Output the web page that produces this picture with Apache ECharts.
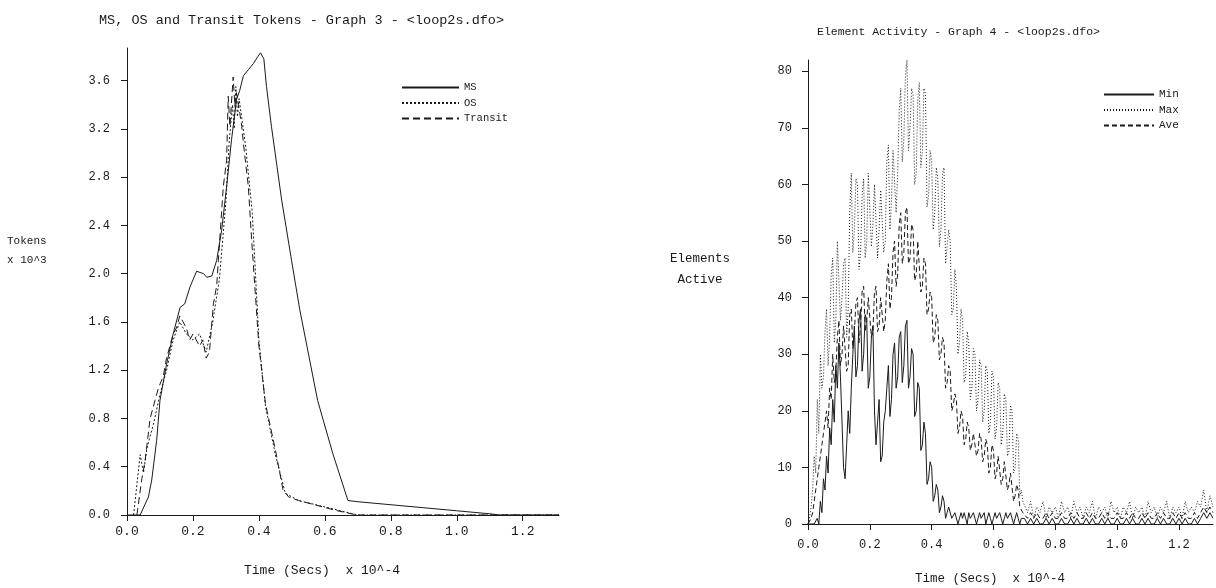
<!DOCTYPE html>
<html>
<head>
<meta charset="utf-8">
<script src="https://cdn.jsdelivr.net/npm/echarts@6/dist/echarts.min.js"></script>
<style>html,body{margin:0;padding:0;background:#fff}#c{width:1216px;height:588px}</style>
</head>
<body>
<div id="c"></div>
<script>
// ---- Graph 3 : MS, OS and Transit tokens (x 10^3) vs time (x 10^-4 s)
const msTime = [0, 0.04, 0.065, 0.075, 0.09, 0.10, 0.12, 0.14, 0.161, 0.175, 0.191, 0.211, 0.232, 0.242, 0.257, 0.272, 0.287, 0.302, 0.317, 0.332, 0.342, 0.353, 0.368, 0.383, 0.397, 0.405, 0.415, 0.423, 0.438, 0.469, 0.499, 0.524, 0.578, 0.624, 0.67, 0.7, 0.8, 0.9, 1.0, 1.1, 1.13, 1.31];
const msTokens = [0, 0, 0.15, 0.29, 0.62, 0.95, 1.25, 1.5, 1.72, 1.75, 1.89, 2.02, 2.0, 1.97, 1.98, 2.11, 2.36, 2.72, 3.11, 3.44, 3.52, 3.64, 3.69, 3.74, 3.8, 3.83, 3.78, 3.55, 3.22, 2.61, 2.11, 1.70, 0.95, 0.51, 0.12, 0.11, 0.085, 0.06, 0.035, 0.01, 0, 0];

const osTime = [0.02, 0.04, 0.05, 0.06, 0.08, 0.10, 0.12, 0.14, 0.16, 0.18, 0.20, 0.22, 0.24, 0.26, 0.28, 0.30, 0.31, 0.32, 0.325, 0.33, 0.335, 0.34, 0.35, 0.36, 0.38, 0.40, 0.42, 0.45, 0.48, 0.52, 0.58, 0.64, 0.70, 1.31];
const osTokens = [0, 0.5, 0.35, 0.55, 0.75, 1.0, 1.2, 1.45, 1.6, 1.5, 1.45, 1.5, 1.35, 1.6, 1.95, 2.6, 3.1, 3.4, 3.2, 3.55, 3.3, 3.45, 3.25, 3.05, 2.5, 1.45, 0.9, 0.5, 0.18, 0.12, 0.08, 0.04, 0, 0];

const transitTime = [0.03, 0.045, 0.055, 0.07, 0.085, 0.095, 0.11, 0.12, 0.13, 0.14, 0.15, 0.16, 0.17, 0.18, 0.19, 0.20, 0.21, 0.22, 0.23, 0.24, 0.25, 0.262, 0.272, 0.277, 0.292, 0.302, 0.307, 0.312, 0.322, 0.327, 0.332, 0.342, 0.348, 0.353, 0.368, 0.378, 0.389, 0.40, 0.42, 0.45, 0.473, 0.49, 0.52, 0.576, 0.63, 0.68, 0.70, 1.31];
const transitTokens = [0, 0.3, 0.45, 0.8, 0.95, 1.05, 1.15, 1.3, 1.4, 1.5, 1.55, 1.65, 1.6, 1.55, 1.45, 1.5, 1.45, 1.4, 1.45, 1.3, 1.35, 1.75, 1.9, 2.11, 2.72, 2.94, 3.47, 3.22, 3.63, 3.39, 3.5, 3.33, 3.22, 3.08, 2.72, 2.28, 1.84, 1.4, 0.92, 0.54, 0.21, 0.15, 0.12, 0.08, 0.04, 0.01, 0, 0];

const tokenTicks = [0, 0.4, 0.8, 1.2, 1.6, 2.0, 2.4, 2.8, 3.2, 3.6];
const timeTicks = [0, 0.2, 0.4, 0.6, 0.8, 1.0, 1.2];

// ---- Graph 4 : Element activity
const elemTime = [
  0,0.005,0.01,0.015,0.02,0.025,0.03,0.035,0.04,0.045,
  0.05,0.055,0.06,0.065,0.07,0.075,0.08,0.085,0.09,0.095,
  0.1,0.105,0.11,0.115,0.12,0.125,0.13,0.135,0.14,0.145,
  0.15,0.155,0.16,0.165,0.17,0.175,0.18,0.185,0.19,0.195,
  0.2,0.205,0.21,0.215,0.22,0.225,0.23,0.235,0.24,0.245,
  0.25,0.255,0.26,0.265,0.27,0.275,0.28,0.285,0.29,0.295,
  0.3,0.305,0.31,0.315,0.32,0.325,0.33,0.335,0.34,0.345,
  0.35,0.355,0.36,0.365,0.37,0.375,0.38,0.385,0.39,0.395,
  0.4,0.405,0.41,0.415,0.42,0.425,0.43,0.435,0.44,0.445,
  0.45,0.455,0.46,0.465,0.47,0.475,0.48,0.485,0.49,0.495,
  0.5,0.505,0.51,0.515,0.52,0.525,0.53,0.535,0.54,0.545,
  0.55,0.555,0.56,0.565,0.57,0.575,0.58,0.585,0.59,0.595,
  0.6,0.605,0.61,0.615,0.62,0.625,0.63,0.635,0.64,0.645,
  0.65,0.655,0.66,0.665,0.67,0.675,0.68,0.685,0.69,0.695,
  0.7,
  0.71,0.72,0.73,0.74,0.75,0.76,0.77,0.78,0.79,0.8,
  0.81,0.82,0.83,0.84,0.85,0.86,0.87,0.88,0.89,0.9,
  0.91,0.92,0.93,0.94,0.95,0.96,0.97,0.98,0.99,1,
  1.01,1.02,1.03,1.04,1.05,1.06,1.07,1.08,1.09,1.1,
  1.11,1.12,1.13,1.14,1.15,1.16,1.17,1.18,1.19,1.2,
  1.21,1.22,1.23,1.24,1.25,1.26,1.27,1.28,1.29,1.3,
  1.31];
const elemMin = [
  0,0,0,0,0,0,1,0,4,2,
  8,6,12,9,17,14,22,18,28,24,
  32,26,18,10,8,14,20,16,24,30,
  35,26,28,36,38,27,30,37,36,24,
  26,33,35,20,14,18,22,11,12,18,
  20,24,28,19,22,30,32,24,26,33,
  34,25,28,35,36,24,26,31,30,19,
  20,25,24,13,14,18,16,7,8,11,
  10,4,5,7,6,2,3,5,4,1,
  2,3,3,1,1,2,2,0,1,2,
  1,2,1,0,2,1,1,2,1,0,
  1,2,1,1,2,0,1,2,1,0,
  1,2,1,1,2,1,0,1,2,1,
  1,2,1,0,1,2,1,0,1,1,
  1,
  0,1,0,1,0,0,1,0,1,0, 0,1,0,0,1,0,1,0,0,1, 0,1,0,0,1,0,1,0,0,1,
  0,0,1,0,1,0,0,1,0,1, 0,0,1,0,1,0,0,1,0,1, 0,1,0,0,1,0,1,2,1,2, 1];
const elemMax = [
  0,1,3,6,12,9,22,16,30,24,
  26,34,38,28,33,44,47,32,36,50,
  50,36,40,46,47,33,38,55,62,48,
  52,61,60,45,48,58,61,47,50,62,
  62,49,53,60,60,47,52,59,59,48,
  50,64,67,52,57,66,66,55,62,73,
  77,64,68,79,82,66,70,77,76,60,
  62,75,78,63,66,77,76,56,58,66,
  64,52,55,63,61,49,52,62,63,46,
  46,52,50,37,38,45,42,30,32,38,
  36,25,26,34,32,22,24,31,30,20,
  22,29,28,18,20,28,27,16,18,27,
  26,15,17,25,24,14,16,23,22,12,
  13,21,20,9,10,16,15,5,6,4,
  4,
  2,4,1,3,2,4,1,3,2,3, 1,4,2,3,1,4,2,3,1,3, 2,4,1,3,2,3,1,4,2,3,
  1,3,2,4,1,3,2,3,1,4, 2,3,1,3,2,4,1,3,2,3, 1,4,2,3,2,4,3,6,2,5, 3];
const elemAve = [
  0,0,1,2,4,6,8,10,12,14,
  16,18,20,17,24,22,30,25,27,33,
  36,28,30,35,35,27,28,37,38,31,
  34,39,40,32,35,41,42,34,36,40,
  40,33,34,41,42,34,35,40,40,34,
  36,43,46,38,40,48,50,42,44,53,
  55,46,48,55,56,46,47,53,52,43,
  44,50,50,41,42,47,46,37,38,41,
  40,32,33,37,36,29,30,33,32,24,
  25,28,27,20,21,23,22,16,17,20,
  19,14,15,18,17,13,14,16,16,12,
  13,16,15,11,12,15,14,9,10,14,
  13,8,9,12,12,7,8,11,11,6,
  7,9,9,4,5,7,6,3,3,2,
  2,
  1,2,1,2,1,1,2,1,2,1, 1,2,1,1,2,1,2,1,1,2, 1,2,1,1,2,1,2,1,1,2,
  1,1,2,1,2,1,1,2,1,2, 1,1,2,1,2,1,1,2,1,2, 1,2,1,1,2,1,2,3,2,3, 2];
const elemTicks = [0, 10, 20, 30, 40, 50, 60, 70, 80];

const FONT = '"Liberation Mono", "DejaVu Sans Mono", monospace';
const INK = '#1a1a1a';
const pairs = (xs, ys) => xs.map((x, i) => [x, ys[i]]);
const onTicks = (ticks, digits) => v => ticks.some(t => Math.abs(t - v) < 1e-9) ? v.toFixed(digits) : '';

function makeAxis(extra, ticks, digits, fontSize, margin) {
  return Object.assign({
    type: 'value',
    axisLine: { lineStyle: { color: INK, width: 1 } },
    axisTick: { lineStyle: { color: INK }, length: 6, customValues: ticks },
    axisLabel: { customValues: ticks, formatter: onTicks(ticks, digits), fontFamily: FONT, fontSize: fontSize, color: INK, margin: margin },
    splitLine: { show: false }
  }, extra);
}

const chart = echarts.init(document.getElementById('c'), null, { renderer: 'canvas' });
chart.setOption({
  animation: false,
  backgroundColor: '#fff',
  title: [
    { text: 'MS, OS and Transit Tokens - Graph 3 - <loop2s.dfo>', left: 94, top: 8,
      textStyle: { fontFamily: FONT, fontSize: 13.5, fontWeight: 'normal', color: INK } },
    { text: 'Element Activity - Graph 4 - <loop2s.dfo>', left: 812, top: 21,
      textStyle: { fontFamily: FONT, fontSize: 11.5, fontWeight: 'normal', color: INK } }
  ],
  legend: [
    { data: ['MS', 'OS', 'Transit'], orient: 'vertical', left: 396, top: 77,
      itemWidth: 57, itemHeight: 10, itemGap: 4.5, itemStyle: { opacity: 0 },
      textStyle: { fontFamily: FONT, fontSize: 10.5, color: INK } },
    { data: ['Min', 'Max', 'Ave'], orient: 'vertical', left: 1098, top: 84,
      itemWidth: 50, itemHeight: 10, itemGap: 4.5, itemStyle: { opacity: 0 },
      textStyle: { fontFamily: FONT, fontSize: 11, color: INK } }
  ],
  grid: [
    { left: 127, top: 48, width: 432, height: 467 },
    { left: 808, top: 60, width: 405, height: 464 }
  ],
  xAxis: [
    makeAxis({ gridIndex: 0, min: 0, max: 1.31, interval: 0.2 }, timeTicks, 1, 13, 10),
    makeAxis({ gridIndex: 1, min: 0, max: 1.31, interval: 0.2 }, timeTicks, 1, 12, 15)
  ],
  yAxis: [
    makeAxis({ gridIndex: 0, min: 0, max: 3.87, interval: 0.4 }, tokenTicks, 1, 12, 17),
    makeAxis({ gridIndex: 1, min: 0, max: 82, interval: 10 }, elemTicks, 0, 12, 16)
  ],
  graphic: [
    { type: 'text', left: 7, top: 236, style: { text: 'Tokens', font: '11px ' + FONT, fill: INK } },
    { type: 'text', left: 7, top: 255, style: { text: 'x 10^3', font: '11px ' + FONT, fill: INK } },
    { type: 'text', x: 700, y: 259, style: { text: 'Elements', font: '12.5px ' + FONT, fill: INK, textAlign: 'center', textVerticalAlign: 'middle' } },
    { type: 'text', x: 700, y: 280, style: { text: 'Active', font: '12.5px ' + FONT, fill: INK, textAlign: 'center', textVerticalAlign: 'middle' } },
    { type: 'text', x: 322, y: 571, style: { text: 'Time (Secs)  x 10^-4', font: '13px ' + FONT, fill: INK, textAlign: 'center', textVerticalAlign: 'middle' } },
    { type: 'text', x: 990, y: 579, style: { text: 'Time (Secs)  x 10^-4', font: '12.5px ' + FONT, fill: INK, textAlign: 'center', textVerticalAlign: 'middle' } }
  ],
  series: [
    { name: 'MS', type: 'line', xAxisIndex: 0, yAxisIndex: 0, symbol: 'none', data: pairs(msTime, msTokens),
      lineStyle: { color: INK, width: 1, type: 'solid' }, itemStyle: { color: INK } },
    { name: 'OS', type: 'line', xAxisIndex: 0, yAxisIndex: 0, symbol: 'none', data: pairs(osTime, osTokens),
      lineStyle: { color: INK, width: 1, type: [2, 2] }, itemStyle: { color: INK } },
    { name: 'Transit', type: 'line', xAxisIndex: 0, yAxisIndex: 0, symbol: 'none', data: pairs(transitTime, transitTokens),
      lineStyle: { color: INK, width: 1, type: [7, 4] }, itemStyle: { color: INK } },
    { name: 'Min', type: 'line', xAxisIndex: 1, yAxisIndex: 1, symbol: 'none', data: pairs(elemTime, elemMin),
      lineStyle: { color: INK, width: 1, type: 'solid' }, itemStyle: { color: INK } },
    { name: 'Max', type: 'line', xAxisIndex: 1, yAxisIndex: 1, symbol: 'none', data: pairs(elemTime, elemMax),
      lineStyle: { color: INK, width: 1, type: [1, 2] }, itemStyle: { color: INK } },
    { name: 'Ave', type: 'line', xAxisIndex: 1, yAxisIndex: 1, symbol: 'none', data: pairs(elemTime, elemAve),
      lineStyle: { color: INK, width: 1, type: [5, 3] }, itemStyle: { color: INK } }
  ]
});
</script>
</body>
</html>
